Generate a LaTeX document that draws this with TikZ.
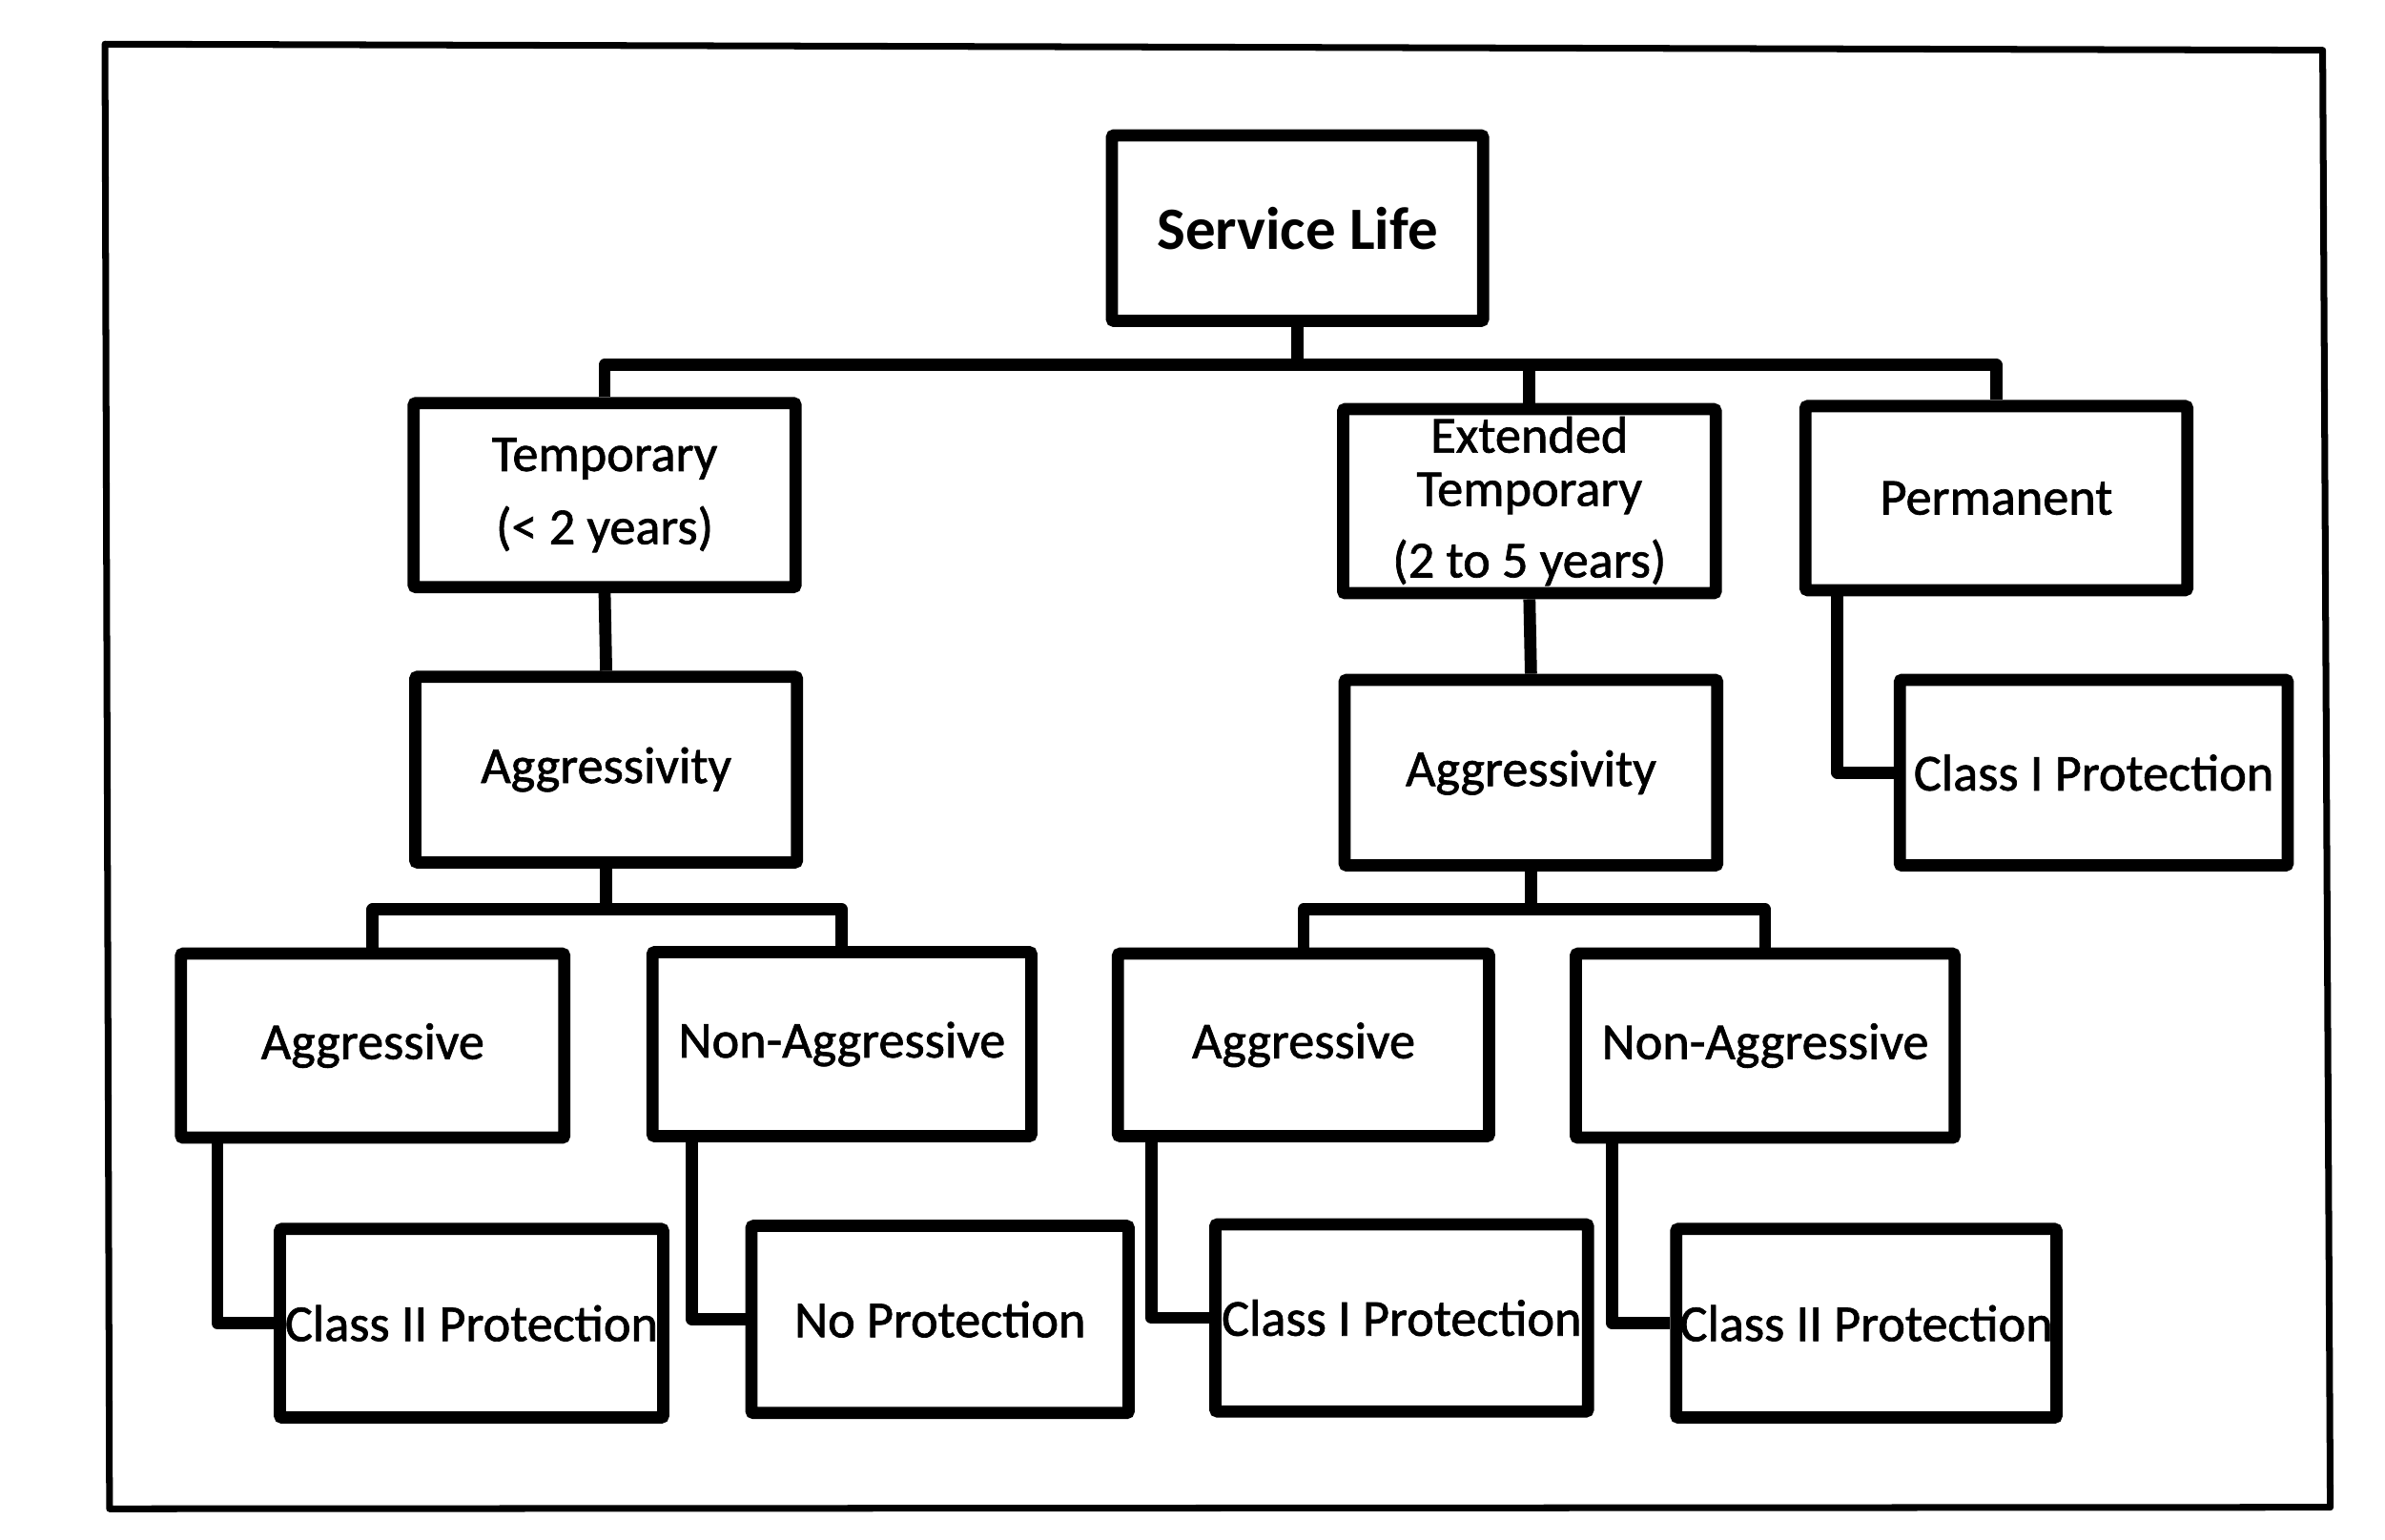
\documentclass[tikz,border=0pt]{standalone}
\usepackage{fontspec}
\setmainfont{Carlito}
\newfontfamily\boxfont[FakeBold=1.3]{Carlito}
\begin{document}
\begin{tikzpicture}[x=1pt,y=-1pt,
  box/.style={draw=black, line width=8pt, rounded corners=1.5pt, inner sep=0pt, align=center,
    font=\boxfont\fontsize{34}{40}\selectfont},
  conn/.style={draw=black, line width=8pt, line join=round}]
\useasboundingbox (0,0) rectangle (1568,1012);
\fill[white] (0,0) rectangle (1568,1012);
\draw[line width=4.4pt, line join=round] (69,29) -- (1527,33) -- (1532,991) -- (72,992) -- cycle;

\node[box, minimum width=244pt, minimum height=122pt, font=\bfseries\fontsize{39.5}{40}\selectfont] (SL) at (853,150) {Service Life};
\node[box, minimum width=251pt, minimum height=121pt] (T) at (397.5,325.5) {Temporary\\[8pt](< 2 years)};
\node[box, minimum width=245pt, minimum height=121pt, font=\boxfont\fontsize{34}{35}\selectfont] (E) at (1005.5,329.5) {Extended\\Temporary\\[12pt](2 to 5 years)};
\node[box, minimum width=251pt, minimum height=121pt] (P) at (1312.5,327.5) {Permanent};

\node[box, minimum width=251pt, minimum height=122pt] (AgL) at (398.5,506) {Aggressivity};
\node[box, minimum width=245pt, minimum height=122pt] (AgR) at (1006.5,508) {Aggressivity};
\node[box, minimum width=255pt, minimum height=122pt] (C1P) at (1376.5,508) {Class I Protection};

\node[box, minimum width=252pt, minimum height=121pt] (A1) at (245,687.5) {Aggressive};
\node[box, minimum width=249pt, minimum height=121pt] (N1) at (553.5,686.5) {Non-Aggressive};
\node[box, minimum width=244pt, minimum height=120pt] (A2) at (857,687) {Aggressive};
\node[box, minimum width=249pt, minimum height=121pt] (N2) at (1160.5,687.5) {Non-Aggressive};

\node[box, minimum width=252pt, minimum height=124pt] (C2a) at (310,870) {Class II Protection};
\node[box, minimum width=248pt, minimum height=123pt] (NP) at (618,867.5) {No Protection};
\node[box, minimum width=245pt, minimum height=123pt] (C1b) at (921.5,866.5) {Class I Protection};
\node[box, minimum width=250pt, minimum height=124pt] (C2b) at (1227,870) {Class II Protection};

\coordinate (bus1) at (0,240);
\coordinate (bus2) at (0,598);
% top level
\draw[conn] (SL.south) -- (SL.south |- bus1);
\draw[conn] (T.north) -- (T.north |- bus1) -- (P.north |- bus1) -- (P.north);
\draw[conn] (E.north) -- (E.north |- bus1);
% second level
\draw[conn] (T.south) -- (AgL.north);
\draw[conn] (E.south) -- (AgR.north);
\draw[conn] ([xshift=25pt]P.south west) |- (C1P.west);
% third level
\draw[conn] (AgL.south) -- (AgL.south |- bus2);
\draw[conn] (A1.north) -- (A1.north |- bus2) -- (N1.north |- bus2) -- (N1.north);
\draw[conn] (AgR.south) -- (AgR.south |- bus2);
\draw[conn] (A2.north) -- (A2.north |- bus2) -- (N2.north |- bus2) -- (N2.north);
% leaves
\draw[conn] ([xshift=28pt]A1.south west) |- (C2a.west);
\draw[conn] ([xshift=30pt]N1.south west) |- (NP.west);
\draw[conn] ([xshift=26pt]A2.south west) |- (C1b.west);
\draw[conn] ([xshift=28pt]N2.south west) |- (C2b.west);
\end{tikzpicture}
\end{document}
